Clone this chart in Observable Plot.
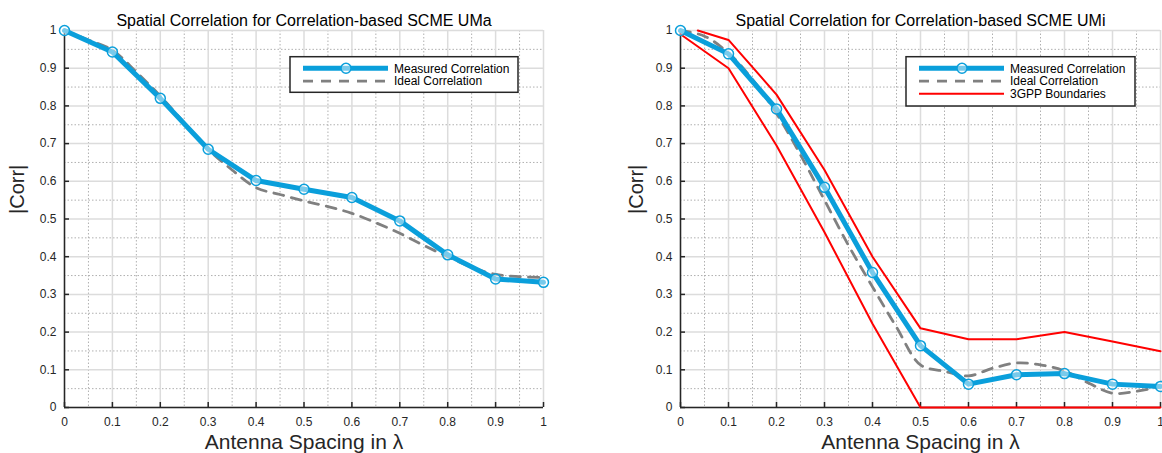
<!DOCTYPE html>
<html>
<head>
<meta charset="utf-8">
<script src="https://cdn.jsdelivr.net/npm/d3@7"></script>
<script src="https://cdn.jsdelivr.net/npm/@observablehq/plot@0.6"></script>
<style>
  body { margin: 0; background: #fff; }
  #wrap { display: flex; width: 1162px; height: 453px; overflow: hidden; }
  #wrap svg { display: block; flex: none; }
</style>
</head>
<body>
<div id="wrap"></div>
<script>
// ---- data ----
const spacing = [0, 0.1, 0.2, 0.3, 0.4, 0.5, 0.6, 0.7, 0.8, 0.9, 1.0];
const idealSpacing = [0, 0.05, 0.1, 0.15, 0.2, 0.25, 0.3, 0.35, 0.4, 0.45, 0.5, 0.55, 0.6, 0.65, 0.7, 0.75, 0.8, 0.85, 0.9, 0.95, 1.0];

const umaMeasured = [1.0, 0.943, 0.820, 0.685, 0.602, 0.579, 0.557, 0.495, 0.405, 0.341, 0.332];
const umaIdeal = [1.0, 0.975, 0.948, 0.89, 0.826, 0.755, 0.685, 0.63, 0.583, 0.565, 0.548, 0.533, 0.515, 0.49, 0.462, 0.43, 0.40, 0.372, 0.353, 0.347, 0.345];

const umiMeasured = [1.0, 0.938, 0.792, 0.584, 0.358, 0.164, 0.062, 0.087, 0.090, 0.062, 0.056];
const umiIdeal = [1.0, 0.985, 0.94, 0.87, 0.78, 0.67, 0.55, 0.43, 0.32, 0.213, 0.113, 0.096, 0.084, 0.104, 0.118, 0.113, 0.097, 0.065, 0.038, 0.043, 0.056];

const upperSpacing = [0.036, 0.1, 0.2, 0.3, 0.4, 0.5, 0.6, 0.7, 0.8, 0.9, 1.0];
const upperBound = [1.0, 0.975, 0.83, 0.63, 0.40, 0.21, 0.181, 0.181, 0.20, 0.175, 0.149];
const lowerSpacing = [0, 0.1, 0.2, 0.3, 0.4, 0.5, 0.6, 0.7, 0.8, 0.9, 1.0];
const lowerBound = [0.99, 0.90, 0.695, 0.465, 0.222, 0.0, 0.0, 0.0, 0.0, 0.0, 0.0];

const majorTicks = [0, 0.1, 0.2, 0.3, 0.4, 0.5, 0.6, 0.7, 0.8, 0.9, 1.0];
const minorTicks = [0.05, 0.15, 0.25, 0.35, 0.45, 0.55, 0.65, 0.75, 0.85, 0.95];
const tickLabels = ["0", "0.1", "0.2", "0.3", "0.4", "0.5", "0.6", "0.7", "0.8", "0.9", "1"];

const titles = ["Spatial Correlation for Correlation-based SCME UMa", "Spatial Correlation for Correlation-based SCME UMi"];
const xLabel = "Antenna Spacing in λ";
const yLabel = "|Corr|";
const legendLabels = ["Measured Correlation", "Ideal Correlation", "3GPP Boundaries"];

// ---- styles ----
const BLUE = "#0a9fdb";
const GRAY = "#808080";
const RED = "#ff0000";
const AXIS = "#262626";
const FONT = "'Liberation Sans', Arial, Helvetica, sans-serif";
const DASH = "10,8";

const H = 453, MT = 30, MB = 46;

function chart({title, measured, ideal, bounds, width, ml, mr, legend}) {
  const plotW = width - ml - mr;
  const plotH = H - MT - MB;
  const meas = spacing.map((x, i) => ({x, y: measured[i]}));
  const ide = idealSpacing.map((x, i) => ({x, y: ideal[i]}));
  const marks = [
    Plot.gridX(minorTicks, {stroke: "#b0b0b0", strokeOpacity: 1, strokeWidth: 1, strokeDasharray: "1.5,2"}),
    Plot.gridY(minorTicks, {stroke: "#b0b0b0", strokeOpacity: 1, strokeWidth: 1, strokeDasharray: "1.5,2"}),
    Plot.gridX(majorTicks, {stroke: "#dcdcdc", strokeOpacity: 1, strokeWidth: 1.5}),
    Plot.gridY(majorTicks, {stroke: "#dcdcdc", strokeOpacity: 1, strokeWidth: 1.5}),
    Plot.axisX(majorTicks, {tickSize: 0, tickPadding: 10, fontSize: 12, fill: AXIS, label: null,
      tickFormat: d => tickLabels[majorTicks.indexOf(d)]}),
    Plot.axisY(majorTicks, {tickSize: 0, tickPadding: 8, fontSize: 12, fill: AXIS, label: null,
      tickFormat: d => tickLabels[majorTicks.indexOf(d)]}),
    Plot.ruleX([0], {stroke: AXIS, strokeWidth: 1.5}),
    Plot.ruleY([0], {stroke: AXIS, strokeWidth: 1.5}),
    Plot.tickX(majorTicks, {x: d => d, insetTop: plotH - 5, stroke: AXIS, strokeWidth: 1.5}),
    Plot.tickY(majorTicks, {y: d => d, insetRight: plotW - 5, stroke: AXIS, strokeWidth: 1.5})
  ];
  if (bounds) {
    const up = upperSpacing.map((x, i) => ({x, y: upperBound[i]}));
    const lo = lowerSpacing.map((x, i) => ({x, y: lowerBound[i]}));
    marks.push(Plot.line(up, {x: "x", y: "y", stroke: RED, strokeWidth: 2}));
    marks.push(Plot.line(lo, {x: "x", y: "y", stroke: RED, strokeWidth: 2}));
  }
  marks.push(
    Plot.line(ide, {x: "x", y: "y", stroke: GRAY, strokeWidth: 2.8, strokeDasharray: DASH, curve: "catmull-rom"}),
    Plot.line(meas, {x: "x", y: "y", stroke: BLUE, strokeWidth: 5, strokeLinejoin: "round"}),
    Plot.dot(meas, {x: "x", y: "y", r: 5, stroke: BLUE, strokeWidth: 1.5, fill: "white", fillOpacity: 0.45}),
    Plot.text([title], {text: d => d, frameAnchor: "top", lineAnchor: "bottom", dy: -5, fontSize: 16, fill: "#000"}),
    Plot.text([xLabel], {text: d => d, frameAnchor: "bottom", lineAnchor: "bottom", dy: 41, fontSize: 21, fill: AXIS}),
    Plot.text([yLabel], {text: d => d, frameAnchor: "left", rotate: -90, dx: legend.ylabDx, dy: -5, fontSize: 20, fill: AXIS})
  );
  const svg = Plot.plot({
    width, height: H,
    marginLeft: ml, marginRight: mr, marginTop: MT, marginBottom: MB,
    x: {domain: [0, 1]},
    y: {domain: [0, 1]},
    style: {fontFamily: FONT, background: "white", overflow: "hidden"},
    marks
  });
  addLegend(svg, legend);
  return svg;
}

function addLegend(svg, {x, y, w, h, rows}) {
  const g = d3.select(svg).append("g").attr("font-family", FONT).attr("text-anchor", "start");
  g.append("rect").attr("x", x).attr("y", y).attr("width", w).attr("height", h)
    .attr("fill", "white").attr("stroke", AXIS).attr("stroke-width", 1.5);
  rows.forEach((r, i) => {
    const cy = y + 11.6 + i * 12.75;
    const ln = g.append("line").attr("x1", x + 13).attr("x2", x + 98).attr("y1", cy).attr("y2", cy);
    if (r === 0) {
      ln.attr("stroke", BLUE).attr("stroke-width", 5);
      g.append("circle").attr("cx", x + 56).attr("cy", cy).attr("r", 5)
        .attr("stroke", BLUE).attr("stroke-width", 1.5).attr("fill", "white").attr("fill-opacity", 0.45);
    } else if (r === 1) {
      ln.attr("stroke", GRAY).attr("stroke-width", 2.8).attr("stroke-dasharray", DASH);
    } else {
      ln.attr("stroke", RED).attr("stroke-width", 2);
    }
    g.append("text").attr("x", x + 104).attr("y", cy).attr("dy", "0.35em")
      .attr("text-anchor", "start").attr("font-size", 12).attr("fill", "#000").text(legendLabels[r]);
  });
}

const wrap = document.getElementById("wrap");
wrap.appendChild(chart({
  title: titles[0], measured: umaMeasured, ideal: umaIdeal, bounds: false,
  width: 581, ml: 64, mr: 38,
  legend: {x: 290, y: 56.7, w: 228, h: 35.6, rows: [0, 1], ylabDx: -47}
}));
wrap.appendChild(chart({
  title: titles[1], measured: umiMeasured, ideal: umiIdeal, bounds: true,
  width: 581, ml: 99, mr: 2,
  legend: {x: 325, y: 56.7, w: 229, h: 49.3, rows: [0, 1, 2], ylabDx: -44}
}));
</script>
</body>
</html>
